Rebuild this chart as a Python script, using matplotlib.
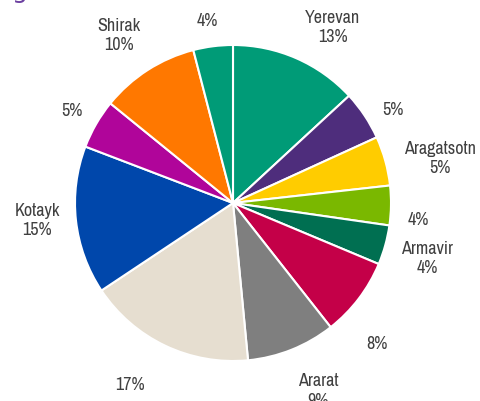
import matplotlib.pyplot as plt

plt.rcParams['font.family'] = ['Archivo Narrow', 'Liberation Sans Narrow', 'DejaVu Sans']

regions = ['Yerevan', '', 'Aragatsotn', '', 'Armavir', '', 'Ararat', '', 'Kotayk', '', 'Shirak', '']
shares = [13, 5, 5, 4, 4, 8, 9, 17, 15, 5, 10, 4]
colors = ['#009B77', '#4E2D7C', '#FFCC00', '#7AB800', '#006F51', '#C40048',
          '#7F7F7F', '#E6DED0', '#0047AB', '#B0059A', '#FF7800', '#009B77']

# label centres, in pie radii from the pie centre
label_xy = [(0.63, 1.11), (1.01, 0.59), (1.31, 0.28), (1.17, -0.11), (1.23, -0.35),
            (0.91, -0.89), (0.54, -1.19), (-0.65, -1.15), (-1.24, -0.11),
            (-1.02, 0.58), (-0.72, 1.06), (-0.16, 1.15)]

W, H = 481, 401
cx, cy, R = 233, 203, 158

fig = plt.figure(figsize=(W / 100, H / 100), dpi=100)
ax = fig.add_axes([0, 0, 1, 1])

wedges, _ = ax.pie(shares, colors=colors, startangle=90, counterclock=False,
                   wedgeprops=dict(edgecolor='white', linewidth=1.5))

for (x, y), name, v in zip(label_xy, regions, shares):
    txt = f'{name}\n{v}%' if name else f'{v}%'
    ax.text(x, y, txt, ha='center', va='center', fontsize=13, color='#404040',
            linespacing=1.25)

ax.set_aspect('auto')
ax.set_xlim(-cx / R, (W - cx) / R)
ax.set_ylim(-(H - cy) / R, cy / R)
ax.axis('off')

# tail of the heading above the chart
fig.text(0.04, 1.005, 'g', color='#6B3FA0', fontsize=18, ha='center', va='baseline',
         family='DejaVu Sans')

fig.savefig('out.png', dpi=100)
